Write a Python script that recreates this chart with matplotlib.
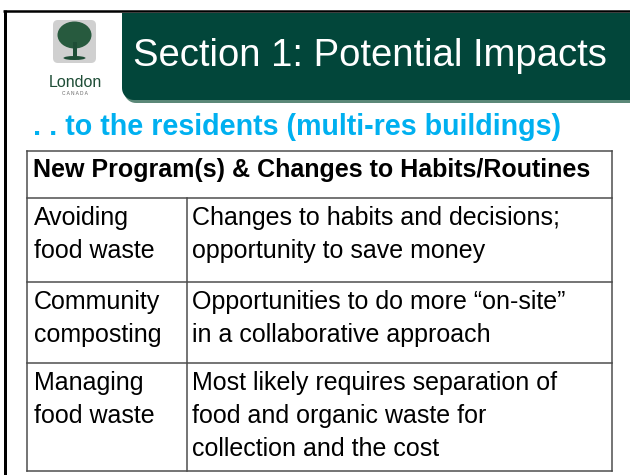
import numpy as np
import matplotlib.pyplot as plt
from matplotlib.patches import Polygon, FancyBboxPatch, Rectangle, Ellipse

plt.rcParams['font.family'] = ['Liberation Sans', 'DejaVu Sans']

# slide text
title = "Section 1: Potential Impacts"
subtitle = ". . to the residents (multi-res buildings)"
header = "New Program(s) & Changes to Habits/Routines"
programs = [["Avoiding", "food waste"],
            ["Community", "composting"],
            ["Managing", "food waste"]]
impacts = [["Changes to habits and decisions;", "opportunity to save money"],
           ["Opportunities to do more \u201con-site\u201d", "in a collaborative approach"],
           ["Most likely requires separation of", "food and organic waste for", "collection and the cost"]]

# layout (pixels, y downwards)
W, H = 630, 475
tbl_left, tbl_right, col_split = 27, 612, 187
row_edges = [151, 198, 282, 363, 471]
line_gap = 33

green = '#02463a'
blue = '#00b0f0'


def pt(px):
    return px * 72 / 100


fig = plt.figure(figsize=(6.3, 4.75), dpi=100)
ax = fig.add_axes([0, 0, 1, 1])
ax.set_xlim(0, W)
ax.set_ylim(H, 0)
ax.axis('off')

# outer slide frame
ax.plot([4.5, 4.5], [10, H + 5], color='black', lw=pt(3), solid_capstyle='butt')
ax.plot([3, W + 5], [11, 11], color='black', lw=pt(2.5), solid_capstyle='butt')

# title banner with rounded bottom-left corner
x0, y0, x1, y1, r = 122, 13, W + 5, 100, 12
t = np.linspace(0, np.pi / 2, 12)
arc = np.column_stack([x0 + r - r * np.cos(t), y1 - r + r * np.sin(t)])
pts = np.vstack([[x0, y0], arc, [x1, y1], [x1, y0]])
ax.add_patch(Polygon(pts + [2, 3], closed=True, fc='#5b8878', ec='none', zorder=1))
ax.add_patch(Polygon(pts, closed=True, fc=green, ec='none', zorder=2))
ax.text(133, 66, title, color='white', fontsize=pt(38.3), va='baseline', ha='left', zorder=3)

# logo
ax.add_patch(FancyBboxPatch((53, 20), 43, 43, boxstyle='round,pad=0,rounding_size=5',
                            fc='#d0d0d0', ec='none'))
ax.add_patch(Ellipse((74.5, 35), 34, 27, fc='#275a3e', ec='none'))
ax.add_patch(Rectangle((72.5, 42), 4, 15, fc='#1e4d36', ec='none'))
ax.add_patch(Ellipse((74.5, 58), 22, 4, fc='#1e4d36', ec='none'))
ax.text(75, 87, "London", color='#1e4d36', fontsize=pt(16), ha='center', va='baseline')
ax.text(75, 95, "C A N A D A", color='#666666', fontsize=3.5, ha='center', va='baseline')

# subtitle
ax.text(33, 135, subtitle, color=blue, fontsize=pt(28.6), fontweight='bold', va='baseline')

# table grid
lc = '#4a4a4a'
for y in row_edges:
    ax.plot([tbl_left, tbl_right], [y, y], color=lc, lw=pt(1.5), solid_capstyle='projecting')
for x in [tbl_left, tbl_right]:
    ax.plot([x, x], [row_edges[0], row_edges[-1]], color=lc, lw=pt(1.5))
ax.plot([col_split, col_split], [row_edges[1], row_edges[-1]], color=lc, lw=pt(1.5))

# header and rows
ax.text(33, 177, header, color='black', fontsize=pt(25), fontweight='bold', va='baseline')
for i in range(len(programs)):
    base = row_edges[i + 1] + 27
    for j, line in enumerate(programs[i]):
        ax.text(34, base + j * line_gap, line, fontsize=pt(25), va='baseline')
    for j, line in enumerate(impacts[i]):
        ax.text(192, base + j * line_gap, line, fontsize=pt(25), va='baseline')

fig.savefig('out.png', dpi=100, facecolor='white')
